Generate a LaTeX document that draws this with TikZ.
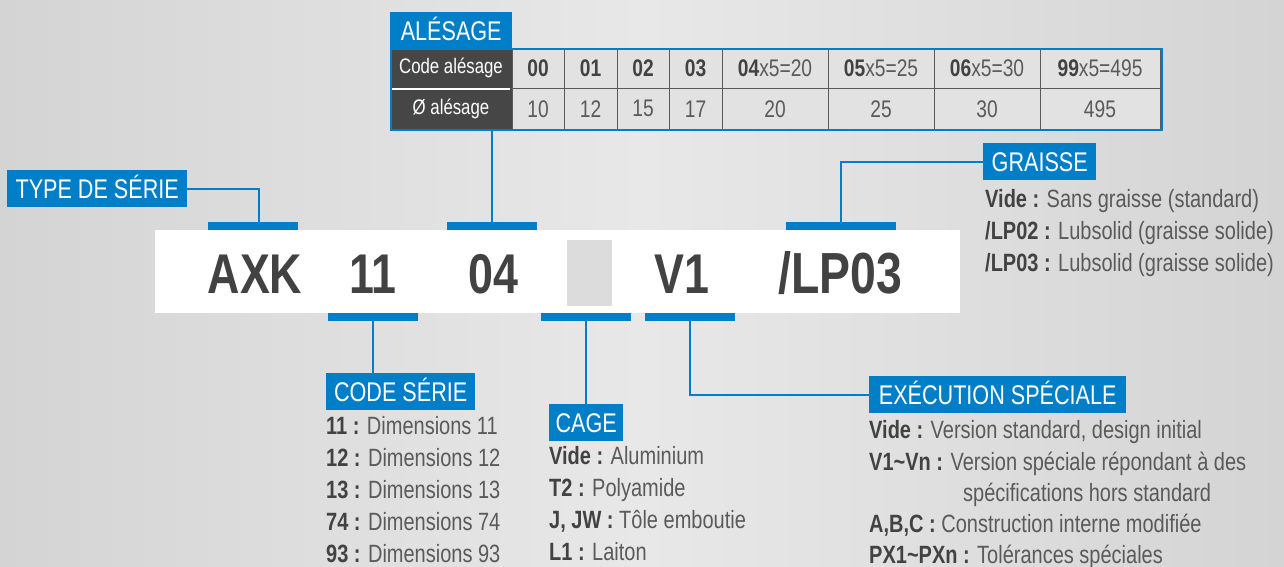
\documentclass[tikz,border=0pt]{standalone}
\usepackage{fontspec}
\setmainfont{Liberation Sans}[FakeStretch=0.8]
\usepackage{xcolor}
\usetikzlibrary{positioning}

\definecolor{brandblue}{RGB}{0,126,200}
\definecolor{inkgray}{RGB}{66,66,66}
\definecolor{softgray}{RGB}{90,90,90}
\definecolor{cellgray}{RGB}{226,226,226}
\definecolor{gridgray}{RGB}{90,90,90}
\definecolor{headgray}{RGB}{70,70,70}
\definecolor{slotgray}{RGB}{220,220,220}
\definecolor{bgedge}{RGB}{212,212,212}
\definecolor{bgmid}{RGB}{232,232,232}

\newcommand\tagfont{\fontsize{27}{27}\selectfont}
\newcommand\entryfont{\fontsize{25}{25}\selectfont}
\newcommand\partfont{\fontsize{56}{56}\selectfont\bfseries}
\newcommand\numfont{\fontsize{24}{24}\selectfont}
\newcommand\headfont{\fontsize{21}{21}\selectfont}
\newcommand\leadkey[1]{{\bfseries\color{inkgray}#1 :}}

\begin{document}
\begin{tikzpicture}[x=1pt, y=-1pt,
  tagbox/.style={fill=brandblue, text=white, font=\tagfont, anchor=north west, inner sep=0pt, minimum height=37pt, text height=19pt, text depth=0pt},
  blubar/.style={fill=brandblue, inner sep=0pt, minimum width=90pt, minimum height=8pt},
  linkline/.style={draw=brandblue, line width=2pt},
  entry/.style={anchor=base west, inner sep=0pt, text=softgray, font=\entryfont},
  tabcell/.style={draw=gridgray, line width=1pt, fill=cellgray, inner sep=0pt, minimum height=40.5pt, text=softgray, font=\numfont},
  partcode/.style={anchor=base, inner sep=0pt, text=inkgray, font=\partfont}]

% background
\shade[left color=bgedge, right color=bgedge, middle color=bgmid] (0,0) rectangle (1284,566);
\useasboundingbox (0,0) rectangle (1284,566);

% bore table
\node[tabcell, fill=headgray, text=white, font=\headfont, minimum width=122pt] (codeHead) at (451,68.25) {Code alésage};
\node[tabcell, fill=headgray, text=white, font=\headfont, minimum width=122pt] (diaHead) at (451,108.75) {Ø alésage};
\draw[white, line width=1.5pt] ([xshift=2pt]codeHead.south west) -- ([xshift=-3pt]codeHead.south east);
\foreach \xa/\xb/\cde/\mul/\dia [count=\i] in {512/564/00/{}/10, 564/617/01/{}/12, 617/669/02/{}/15, 669/722/03/{}/17,
    722/828/04/{x5=20}/20, 828/934/05/{x5=25}/25, 934/1040/06/{x5=30}/30, 1040/1160/99/{x5=495}/495} {
  \node[tabcell, minimum width={\xb-\xa}] (codeCell\i) at ({(\xa+\xb)/2},68.25) {\textcolor{inkgray}{\bfseries\cde}\mul};
  \node[tabcell, minimum width={\xb-\xa}] (diaCell\i) at ({(\xa+\xb)/2},108.75) {\dia};
}
\node[draw=brandblue, line width=2pt, anchor=north west, minimum width=771pt, minimum height=81pt, inner sep=0pt] (alesageTab) at (390,48) {};

% part number band
\node[fill=white, inner sep=0pt, anchor=north west, minimum width=805pt, minimum height=83pt] (codeBand) at (155,230) {};
\node[fill=slotgray, inner sep=0pt, anchor=north west, minimum width=45pt, minimum height=66pt] (slotEmpty) at (567,240) {};
\node[partcode] (pSerie) at (255,293) {AXK};
\node[partcode] (pCode) at (373,293) {11};
\node[partcode] (pAlesage) at (493,293) {04};
\node[partcode] (pExec) at (682,293) {V1};
\node[partcode, font=\fontsize{58}{58}\selectfont\bfseries] (pGraisse) at (840,293) {/LP03};

% bars
\node[blubar] (barType) at (253,226) {};
\node[blubar] (barAlesage) at (492,226) {};
\node[blubar, minimum width=110pt] (barGraisse) at (841,226) {};
\node[blubar] (barCode) at (373,317) {};
\node[blubar] (barCage) at (585.5,317) {};
\node[blubar] (barExec) at (690,317) {};

% tags
\node[tagbox, minimum width=122pt] (tagAlesage) at (390,12) {ALÉSAGE};
\node[tagbox, minimum width=180pt] (tagType) at (7,170) {TYPE DE SÉRIE};
\node[tagbox, minimum width=113pt] (tagGraisse) at (983,143) {GRAISSE};
\node[tagbox, minimum width=149pt] (tagCode) at (326,373) {CODE SÉRIE};
\node[tagbox, minimum width=74pt] (tagCage) at (549,404) {CAGE};
\node[tagbox, minimum width=257pt] (tagExec) at (869,376) {EXÉCUTION SPÉCIALE};

% links
\draw[linkline] (tagType.east) -| ([xshift=6pt]barType.north);
\draw[linkline] (alesageTab.south -| barAlesage.north) -- (barAlesage.north);
\draw[linkline] (tagGraisse.west) -| (barGraisse.north);
\draw[linkline] (barCode.south) -- (barCode.south |- tagCode.north);
\draw[linkline] (barCage.south) -- (barCage.south |- tagCage.north);
\draw[linkline] (barExec.south) |- (tagExec.west);

% option lists
\foreach \k/\v [count=\i] in {Vide/{Sans graisse (standard)}, {/LP02}/{Lubsolid (graisse solide)}, {/LP03}/{Lubsolid (graisse solide)}}
  \node[entry] (graisseItem\i) at (985,{175+32*\i}) {\leadkey{\k} \v};
\foreach \k/\v [count=\i] in {11/Dimensions 11, 12/Dimensions 12, 13/Dimensions 13, 74/Dimensions 74, 93/Dimensions 93}
  \node[entry] (codeItem\i) at (326,{402+32*\i}) {\leadkey{\k} \v};
\foreach \k/\v [count=\i] in {Vide/Aluminium, T2/Polyamide, {J, JW}/{Tôle emboutie}, L1/Laiton}
  \node[entry] (cageItem\i) at (549,{432+32*\i}) {\leadkey{\k} \v};
\node[entry] (execItem1) at (869,438) {\leadkey{Vide} Version standard, design initial};
\node[entry] (execItem2) at (869,470) {\leadkey{V1\textasciitilde Vn} Version spéciale répondant à des};
\node[entry] (execItem2b) at (963,501) {spécifications hors standard};
\node[entry] (execItem3) at (869,532) {\leadkey{A,B,C} Construction interne modifiée};
\node[entry] (execItem4) at (869,563) {\leadkey{PX1\textasciitilde PXn} Tolérances spéciales};
\end{tikzpicture}
\end{document}
